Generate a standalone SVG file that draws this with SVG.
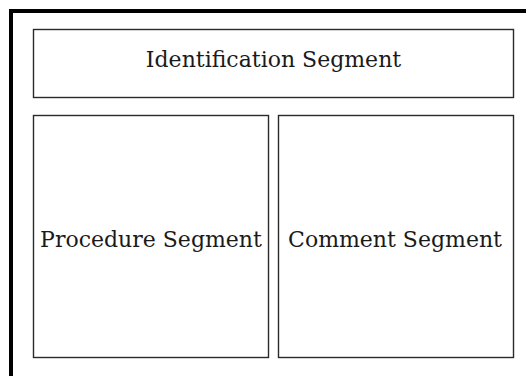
<svg xmlns="http://www.w3.org/2000/svg" width="526" height="376" viewBox="0 0 526 376">
<style>
.box{fill:#fff;stroke:#2a2a2a;stroke-width:1.4}
.lbl{font-family:"DejaVu Serif","Liberation Serif",serif;font-size:22px;fill:#1a1a1a;text-anchor:middle}
</style>
<rect width="526" height="376" fill="#fff"/>
<g id="frame"><path d="M11,376 V11 H526" fill="none" stroke="#000" stroke-width="4"/></g>
<g id="identification"><rect class="box" x="33.5" y="29.5" width="480" height="68"/><text class="lbl" x="273.5" y="67">Identification Segment</text></g>
<g id="procedure"><rect class="box" x="33.5" y="115.5" width="235" height="242"/><text class="lbl" x="151" y="247">Procedure Segment</text></g>
<g id="comment"><rect class="box" x="278.5" y="115.5" width="235" height="242"/><text class="lbl" x="395" y="247">Comment Segment</text></g>
<g id="connectors"></g>
</svg>
